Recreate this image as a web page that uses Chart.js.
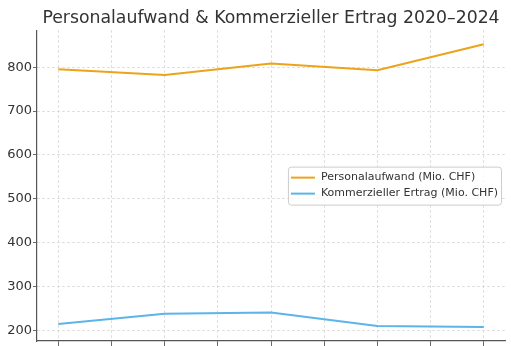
<!DOCTYPE html>
<html lang="de">
<head>
    <meta charset="UTF-8">
    <title>Personalaufwand & Kommerzieller Ertrag</title>
    <style>
        html, body { margin: 0; padding: 0; background: #fff; overflow: hidden; }
        .rahmen { position: relative; width: 511px; height: 346px; overflow: hidden; }
        .diagramm { position: absolute; left: -12px; top: 0; width: 523px; height: 372px; }
    </style>
</head>
<body>
    <div class="rahmen">
        <div class="diagramm">
            <canvas id="chart"></canvas>
        </div>
    </div>

    <script src="https://cdn.jsdelivr.net/npm/chart.js"></script>
    <script>
        const jahre = [2020, 2021, 2022, 2023, 2024];
        const personalaufwand = [795, 782, 808, 793, 852];
        const kommerziellerErtrag = [215, 238, 241, 210, 208];
        const xTicks = [2020, 2020.5, 2021, 2021.5, 2022, 2022.5, 2023, 2023.5, 2024];
        const yTicks = [200, 300, 400, 500, 600, 700, 800];

        const schrift = "'DejaVu Sans', sans-serif";
        const text = '#333333';

        // legend drawn like matplotlib's "center right" box
        const legendBox = {
            id: 'legendBox',
            afterDraw(chart) {
                const ctx = chart.ctx;
                const area = chart.chartArea;
                const sets = chart.data.datasets;
                ctx.save();
                ctx.font = '11px ' + schrift;
                let textW = 0;
                sets.forEach(ds => { textW = Math.max(textW, ctx.measureText(ds.label).width); });
                const w = 3 + 24 + 6 + textW + 3;
                const rowH = 16;
                const h = sets.length * rowH + 6;
                const x = area.right - 4 - w;
                const y = (area.top + area.bottom) / 2 - h / 2;
                ctx.fillStyle = 'rgba(255,255,255,0.8)';
                ctx.strokeStyle = '#cccccc';
                ctx.lineWidth = 1;
                ctx.beginPath();
                ctx.roundRect(x + 0.5, y + 0.5, w, h, 3);
                ctx.fill();
                ctx.stroke();
                sets.forEach((ds, i) => {
                    const cy = y + 3 + rowH * i + rowH / 2;
                    ctx.strokeStyle = ds.borderColor;
                    ctx.lineWidth = 2;
                    ctx.beginPath();
                    ctx.moveTo(x + 3, cy);
                    ctx.lineTo(x + 27, cy);
                    ctx.stroke();
                    ctx.fillStyle = text;
                    ctx.textBaseline = 'middle';
                    ctx.fillText(ds.label, x + 33, cy);
                });
                ctx.restore();
            }
        };

        new Chart(document.getElementById('chart'), {
            type: 'line',
            data: {
                datasets: [{
                    label: 'Personalaufwand (Mio. CHF)',
                    data: jahre.map((j, i) => ({ x: j, y: personalaufwand[i] })),
                    borderColor: '#eca31a',
                    borderWidth: 2,
                    pointRadius: 0,
                    tension: 0
                }, {
                    label: 'Kommerzieller Ertrag (Mio. CHF)',
                    data: jahre.map((j, i) => ({ x: j, y: kommerziellerErtrag[i] })),
                    borderColor: '#5bb4ea',
                    borderWidth: 2,
                    pointRadius: 0,
                    tension: 0
                }]
            },
            options: {
                responsive: true,
                maintainAspectRatio: false,
                animation: false,
                layout: { padding: { left: 0, right: 6, top: 0, bottom: 0 } },
                plugins: {
                    legend: { display: false },
                    tooltip: { enabled: false },
                    title: {
                        display: true,
                        fullSize: false,
                        text: 'Personalaufwand & Kommerzieller Ertrag 2020–2024',
                        color: text,
                        font: { family: schrift, size: 17.3, weight: 'normal', lineHeight: 1.2 },
                        padding: { top: 8, bottom: 1.5 }
                    }
                },
                scales: {
                    x: {
                        type: 'linear',
                        min: 2019.8,
                        max: 2024.2,
                        afterBuildTicks: s => { s.ticks = xTicks.map(v => ({ value: v })); },
                        afterFit: s => { s.height = 31; },
                        ticks: {
                            color: text,
                            font: { family: schrift, size: 12 },
                            padding: 2,
                            maxRotation: 0,
                            callback: v => v.toFixed(1)
                        },
                        grid: { color: '#d2d2d2', tickColor: '#444444', tickLength: 5, lineWidth: 0.8 },
                        border: { color: '#555555', width: 1.2, dash: [2.5, 2.5] }
                    },
                    y: {
                        min: 176,
                        max: 884,
                        afterBuildTicks: s => { s.ticks = yTicks.map(v => ({ value: v })); },
                        afterFit: s => { s.width = 49; },
                        title: {
                            display: true,
                            text: 'Mio. CHF',
                            color: text,
                            font: { family: schrift, size: 13 },
                            padding: 0
                        },
                        ticks: {
                            color: text,
                            font: { family: schrift, size: 13 },
                            padding: 1
                        },
                        grid: { color: '#d2d2d2', tickColor: '#444444', tickLength: 4, lineWidth: 0.8 },
                        border: { color: '#555555', width: 1.2, dash: [2.5, 2.5] }
                    }
                }
            },
            plugins: [legendBox]
        });
    </script>
</body>
</html>
